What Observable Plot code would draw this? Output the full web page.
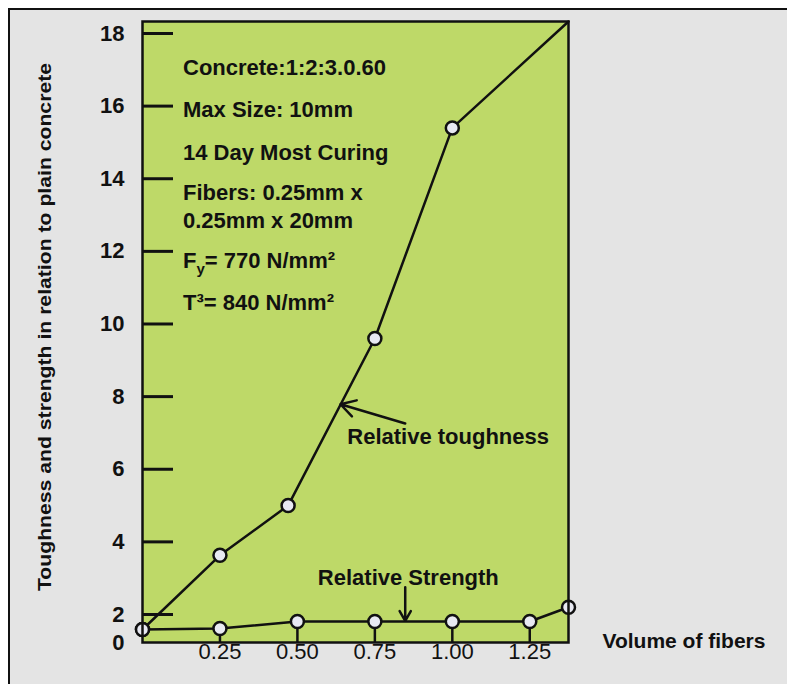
<!DOCTYPE html>
<html>
<head>
<meta charset="utf-8">
<script src="https://cdn.jsdelivr.net/npm/d3@7"></script>
<script src="https://cdn.jsdelivr.net/npm/@observablehq/plot@0.6"></script>
<style>
  html, body { margin: 0; padding: 0; background: #ffffff; width: 787px; height: 684px; overflow: hidden; }
  #frame { position: absolute; left: 8px; top: 8px; width: 800px; height: 700px;
           border-left: 2px solid #111; border-top: 2px solid #111; background: #e4e4e4; }
  #chart { position: absolute; left: 0; top: 0; }
  #chart svg { overflow: visible; }
</style>
</head>
<body>
<div id="frame"></div>
<div id="chart"></div>
<script>
// ---- data ----
const volToughness = [0, 0.25, 0.47, 0.75, 1.00, 1.375];
const toughness    = [0.93, 3.63, 5.0, 9.6, 15.4, 18.33];
const volStrength  = [0, 0.25, 0.50, 0.75, 1.00, 1.25, 1.375];
const strength     = [0.93, 1.0, 1.5, 1.5, 1.5, 1.5, 2.2];
const yTicks       = [0, 2, 4, 6, 8, 10, 12, 14, 16, 18];
const xTicks       = [0.25, 0.50, 0.75, 1.00, 1.25];
const xTickLabels  = ["0.25", "0.50", "0.75", "1.00", "1.25"];
const notes = ["Concrete:1:2:3.0.60", "Max Size: 10mm", "14 Day Most Curing",
               "Fibers: 0.25mm x", "0.25mm x 20mm", "Fy= 770 N/mm²", "T³= 840 N/mm²"];
const seriesLabels = ["Relative toughness", "Relative Strength"];
const yTitle = "Toughness and strength in relation to plain concrete";
const xTitle = "Volume of fibers";

const tough = volToughness.map((v, i) => ({v, y: toughness[i]}));
const toughDots = tough.slice(0, -1);           // last vertex (corner) has no marker
const str = volStrength.map((v, i) => ({v, y: strength[i]}));
const strTicks = str.filter(d => xTicks.includes(d.v));

// ---- layout ----
const W = 787, H = 684;
const mL = 142, mR = 219, mT = 21, mB = 42;
const plotW = W - mL - mR;
const green = "#bed968";
const font = "'Liberation Sans', Arial, sans-serif";
const noteY = [67, 109, 152, 192, 220, 260, 302];

const chart = Plot.plot({
  width: W, height: H,
  marginLeft: mL, marginRight: mR, marginTop: mT, marginBottom: mB,
  x: {domain: [0, 1.375]},
  y: {type: "linear", domain: [0, 2, 18.33], range: [H - mB, 614, mT]},
  style: {background: "transparent", fontFamily: font, color: "#111", fontSize: "22px"},
  marks: [
    Plot.frame({fill: green}),
    Plot.ruleX(strTicks, {x: "v", y1: 0, y2: "y", stroke: "#111", strokeWidth: 2.5}),
    Plot.tickY(yTicks.slice(1), {y: d => d, stroke: "#111", strokeWidth: 3, insetRight: plotW - 31}),
    Plot.axisY({ticks: yTicks, tickSize: 0, tickPadding: 18, label: null}),
    Plot.axisX({ticks: xTicks, tickFormat: (d, i) => xTickLabels[i], tickSize: 0, tickPadding: 1, label: null}),
    Plot.text([yTitle], {frameAnchor: "left", fontSize: 18, fontWeight: "bold", text: d => d}),
    Plot.text([xTitle], {frameAnchor: "bottom-right", dx: 34, dy: 5, textAnchor: "start", fontSize: 21, fontWeight: "bold", text: d => d}),
    Plot.line(tough, {x: "v", y: "y", stroke: "#111", strokeWidth: 2.5}),
    Plot.line(str, {x: "v", y: "y", stroke: "#111", strokeWidth: 2.5}),
    Plot.arrow([{x1: 0.848, y1: 7.26, x2: 0.639, y2: 7.79}], {x1: "x1", y1: "y1", x2: "x2", y2: "y2", stroke: "#111", strokeWidth: 2.5, headLength: 10}),
    Plot.arrow([{x1: 0.848, y1: 2.75, x2: 0.848, y2: 1.55}], {x1: "x1", y1: "y1", x2: "x2", y2: "y2", stroke: "#111", strokeWidth: 2.5, headLength: 10}),
    Plot.dot(toughDots, {x: "v", y: "y", r: 6.5, fill: "#e8e9f2", stroke: "#111", strokeWidth: 2.5}),
    Plot.dot(str, {x: "v", y: "y", r: 6.5, fill: "#e8e9f2", stroke: "#111", strokeWidth: 2.5}),
    Plot.text([seriesLabels[0]], {x: 0.661, y: 6.88, textAnchor: "start", fontSize: 22, fontWeight: "bold", text: d => d}),
    Plot.text([seriesLabels[1]], {x: 0.858, y: 3.02, textAnchor: "middle", fontSize: 22, fontWeight: "bold", text: d => d}),
    Plot.text(notes, {frameAnchor: "top-left", textAnchor: "start", fontSize: 22, fontWeight: "bold", text: d => d}),
    Plot.frame({stroke: "#111", strokeWidth: 2.5})
  ]
});

document.getElementById("chart").appendChild(chart);
const svg = d3.select(chart);

// axis label styling
svg.selectAll('g[aria-label="y-axis tick label"]').attr("font-size", 22).attr("font-weight", "bold");
svg.selectAll('g[aria-label="x-axis tick label"]').attr("font-size", 22);

svg.selectAll("text").each(function() {
  const t = this.textContent;
  const g = d3.select(this);
  if (t === yTitle) {
    d3.select(this.parentNode).attr("transform", null);
    g.attr("transform", "translate(45,327) rotate(-90)")
      .attr("x", null).attr("y", null)
      .attr("text-anchor", "middle").attr("dy", "0.35em")
      .attr("textLength", 528).attr("lengthAdjust", "spacingAndGlyphs");
    return;
  }
  const idx = notes.indexOf(t);
  if (idx >= 0) {
    d3.select(this.parentNode).attr("transform", null);
    g.attr("transform", `translate(${mL + 41},${noteY[idx]})`).attr("dy", "0.35em").attr("y", null).attr("x", null);
    if (t.startsWith("Fy")) {
      g.text(null);
      g.append("tspan").text("F");
      g.append("tspan").attr("dy", 6).attr("font-size", 15).text("y");
      g.append("tspan").attr("dy", -6).text("= 770 N/mm²");
    }
  }
});
</script>
</body>
</html>
